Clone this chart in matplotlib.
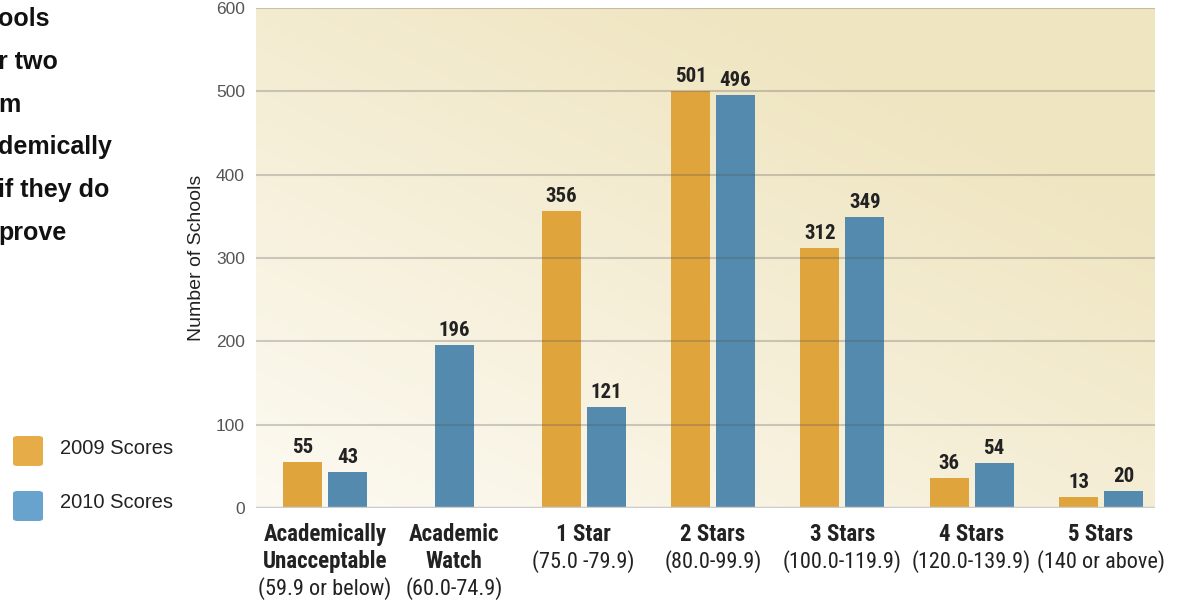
import numpy as np
import matplotlib.pyplot as plt
from matplotlib.patches import FancyBboxPatch
from matplotlib import font_manager

categories = ['Academically\nUnacceptable', 'Academic\nWatch', '1 Star', '2 Stars',
              '3 Stars', '4 Stars', '5 Stars']
ranges = ['(59.9 or below)', '(60.0-74.9)', '(75.0 -79.9)', '(80.0-99.9)',
          '(100.0-119.9)', '(120.0-139.9)', '(140 or above)']
scores_2009 = [55, None, 356, 501, 312, 36, 13]
scores_2010 = [43, 196, 121, 496, 349, 54, 20]
yticks = [0, 100, 200, 300, 400, 500, 600]
side_text = ['ools', 'r two', 'm', 'demically', 'if they do', 'prove']

names = {f.name for f in font_manager.fontManager.ttflist}
narrow = 'Liberation Sans'
for cand in ['Roboto Condensed', 'Liberation Sans Narrow', 'Open Sans Condensed', 'Roboto']:
    if cand in names:
        narrow = cand
        break
plt.rcParams['font.family'] = ['Liberation Sans', 'DejaVu Sans']

orange = '#e0a43c'
blue = '#538aad'

fig = plt.figure(figsize=(11.81, 6.02), dpi=100)
ax = fig.add_axes([256 / 1181, 1 - 508 / 602, (1155 - 256) / 1181, 500 / 602])

x = np.arange(len(categories))
ax.set_xlim(-0.534, 6.418)
ax.set_ylim(0, 600)

# background gradient
gx, gy = np.meshgrid(np.linspace(0, 1, 200), np.linspace(0, 1, 200))
t = np.clip(0.6 * gx + 0.7 * gy, 0, 1)
c0 = np.array([0.99, 0.98, 0.95])
c1 = np.array([0.94, 0.90, 0.76])
grad = c0 + (c1 - c0) * t[..., None]
ax.imshow(grad, extent=[*ax.get_xlim(), 0, 600], origin='lower', aspect='auto', zorder=0)

w = 0.30
off = 0.174


def value_label(xp, v):
    ax.text(xp, v + 6, str(v), ha='center', va='bottom', family=narrow,
            fontweight='bold', fontsize=15, color='#222222', zorder=4)


for i in range(len(categories)):
    v9, v10 = scores_2009[i], scores_2010[i]
    if v9 is None:
        ax.bar(x[i], v10, w, color=blue, zorder=2)
        value_label(x[i], v10)
        continue
    ax.bar(x[i] - off, v9, w, color=orange, zorder=2)
    ax.bar(x[i] + off, v10, w, color=blue, zorder=2)
    value_label(x[i] - off, v9)
    value_label(x[i] + off, v10)

for y in yticks[1:]:
    ax.axhline(y, color='#555555', alpha=0.28, lw=1.5, zorder=3)
ax.axhline(0, color='#cccccc', lw=2.5, zorder=3)

for s in ax.spines.values():
    s.set_visible(False)
ax.set_yticks(yticks)
ax.set_yticklabels([str(v) for v in yticks], color='#555555', fontsize=12.5)
ax.tick_params(axis='y', length=0, pad=8)
ax.set_xticks([])
ax.set_ylabel('Number of Schools', fontsize=14, color='#222222', labelpad=8)

tr = ax.get_xaxis_transform()
for i, (name, rng) in enumerate(zip(categories, ranges)):
    ax.text(x[i], -0.03, name, transform=tr, ha='center', va='top', family=narrow,
            fontweight='bold', fontsize=16.5, color='#222222', linespacing=1.2)
    nl = name.count('\n') + 1
    ax.text(x[i], -0.03 - 0.054 * nl, rng, transform=tr, ha='center', va='top',
            family=narrow, fontsize=16, color='#222222')

# legend
for yy, col, lab in [(436, '#e5ac48', '2009 Scores'), (491, '#67a3cc', '2010 Scores')]:
    box = FancyBboxPatch((13 / 1181, 1 - (yy + 30) / 602), 30 / 1181, 30 / 602,
                         boxstyle='round,pad=0,rounding_size=0.004', transform=fig.transFigure,
                         facecolor=col, edgecolor='none')
    fig.patches.append(box)
    fig.text(60 / 1181, 1 - (yy + 12) / 602, lab, fontsize=14.5, color='#222222', va='center')

# cropped body text on the left
for k, s in enumerate(side_text):
    fig.text(-2 / 1181, 1 - (19 + 42.8 * k) / 602, s, fontsize=18, fontweight='bold',
             color='#111111', va='center', ha='left')

fig.savefig('out.png', dpi=100)
